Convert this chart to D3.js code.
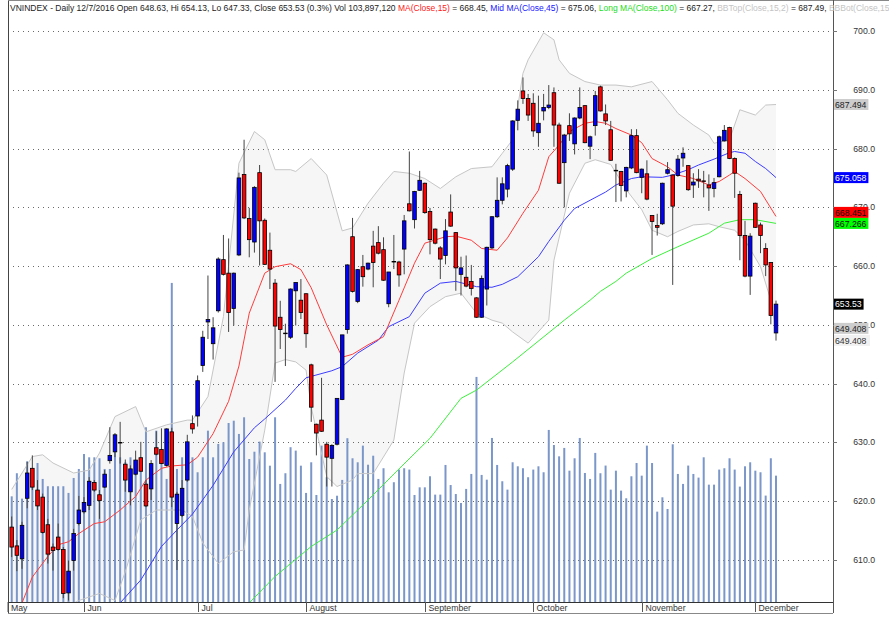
<!DOCTYPE html>
<html>
<head>
<meta charset="utf-8">
<script src="https://cdn.jsdelivr.net/npm/d3@7"></script>
<style>
  body { margin: 0; background: #fff; }
  svg { display: block; }
  text { font-family: "Liberation Sans", Arial, sans-serif; }
</style>
</head>
<body>
<div id="chart"></div>
<script>
// Daily bars, 12 May 2016 to 7 Dec 2016 (one value per trading day).
const openPx = [615.6,612.4,610.2,620.5,625.6,621.9,620.7,616.0,612.2,613.9,
  611.8,604.4,609.9,616.2,618.2,619.3,623.2,621.1,622.4,626.9,
  628.4,630.0,626.3,621.6,624.6,627.4,622.9,622.1,629.1,628.8,
  626.1,631.8,616.2,617.6,623.6,633.2,634.5,643.1,650.5,646.8,
  652.4,661.1,658.8,652.8,661.9,675.6,668.1,664.1,675.9,667.8,
  662.7,657.1,651.3,648.6,647.9,655.8,654.2,655.3,643.2,633.1,
  633.8,629.7,627.3,629.7,637.3,649.2,665.0,654.0,659.9,659.5,
  663.4,664.0,662.8,653.6,660.8,660.7,662.9,670.6,667.9,672.9,
  674.1,669.3,666.3,663.1,661.8,669.2,665.7,658.6,658.1,657.4,
  654.6,651.3,656.1,663.1,668.4,671.2,673.1,676.5,684.8,689.8,
  688.5,687.7,682.7,686.4,687.0,689.5,684.0,677.6,683.9,680.8,
  685.2,687.3,680.4,683.9,690.5,685.9,683.2,676.3,676.1,672.8,
  676.7,682.2,675.1,675.7,668.6,666.9,667.2,675.8,675.5,675.4,
  678.4,677.1,673.8,674.8,674.5,673.8,673.2,675.2,681.3,683.6,
  678.3,672.2,665.2,658.3,670.7,667.0,663.0,660.6,648.63];

const highPx = [617.4,613.4,616.5,626.7,627.8,623.6,621.3,617.0,612.8,616.2,
  612.2,609.9,615.3,620.9,620.7,624.1,623.6,621.9,625.3,632.6,
  631.6,633.5,627.1,626.1,628.6,630.1,623.6,627.0,631.9,632.4,
  632.4,632.5,621.6,623.6,631.3,634.6,641.4,649.0,658.4,651.3,
  661.5,665.3,664.7,658.9,675.9,681.5,669.9,673.6,677.2,668.1,
  665.7,657.8,654.1,650.2,656.2,657.2,657.8,655.4,643.4,633.2,
  641.0,630.1,629.7,637.5,648.3,660.3,668.2,659.5,661.9,660.6,
  666.0,666.8,664.9,659.0,665.3,660.9,668.7,679.5,672.8,676.2,
  674.2,669.9,666.4,663.4,668.0,672.2,665.8,661.6,661.8,660.2,
  654.7,658.4,663.3,668.5,675.1,675.1,677.4,684.8,688.2,692.1,
  689.3,689.4,689.0,689.3,690.8,690.4,684.4,682.5,686.0,685.3,
  690.4,687.4,682.2,689.8,690.7,687.5,684.7,677.4,676.2,676.9,
  683.3,683.3,676.6,678.0,668.7,668.9,674.2,677.7,675.6,678.9,
  680.2,677.2,675.8,676.5,676.2,675.6,675.0,682.2,684.0,683.7,
  678.5,672.8,667.7,665.6,670.8,667.4,663.9,660.7,654.13];

const lowPx = [610.5,608.1,608.5,618.8,621.9,618.5,614.5,609.4,608.2,611.6,
  603.5,603.1,608.2,615.9,617.9,618.5,621.6,617.0,622.3,626.4,
  627.5,626.4,621.6,619.3,624.4,625.0,619.0,620.2,627.8,626.3,
  625.9,619.0,608.3,617.3,623.3,631.5,632.7,642.0,647.6,644.1,
  652.1,658.4,648.8,649.9,661.7,668.0,661.5,662.3,660.1,660.2,
  656.1,640.3,645.9,643.0,647.6,649.9,651.0,646.1,633.5,627.8,
  631.8,622.5,622.5,629.5,637.2,648.5,655.5,653.7,656.5,659.3,
  656.4,662.0,657.5,653.0,659.5,656.5,658.6,669.3,666.4,672.8,
  668.9,662.0,663.7,657.8,660.3,666.7,655.8,655.0,656.4,655.0,
  651.2,651.2,653.3,662.9,668.2,670.5,671.7,676.2,683.1,687.6,
  684.7,682.0,680.3,684.8,686.7,680.3,674.0,670.0,681.3,679.0,
  685.0,680.9,678.2,682.2,686.3,684.0,677.9,670.9,671.0,671.7,
  676.5,675.8,672.4,671.2,661.9,665.2,667.0,675.6,656.8,675.2,
  676.9,672.8,671.6,673.3,671.7,669.4,671.7,675.1,681.2,678.2,
  671.6,661.0,658.1,655.1,666.5,662.2,658.3,650.1,647.33];

const closePx = [612.2,610.8,615.9,624.8,622.4,619.2,614.7,611.0,611.6,611.8,
  604.3,608.1,614.5,618.5,619.8,623.4,621.9,620.1,624.6,627.8,
  631.3,630.0,623.6,625.5,627.0,625.1,619.2,626.4,628.0,626.4,
  632.3,620.7,621.2,622.2,630.1,632.3,640.5,647.9,650.9,649.5,
  661.2,658.6,652.1,658.8,675.0,668.2,664.5,673.4,667.7,660.3,
  659.5,649.8,649.2,648.5,656.1,657.2,652.1,648.5,636.0,631.6,
  631.9,627.5,629.5,637.5,648.3,660.2,655.7,659.4,658.2,660.5,
  660.6,662.2,657.6,659.0,660.8,658.5,667.7,669.4,672.7,674.6,
  669.1,664.5,663.9,661.2,666.0,666.8,659.7,659.7,656.6,656.2,
  651.3,657.9,663.2,668.4,671.2,674.0,677.1,684.7,686.7,688.5,
  685.7,683.0,684.3,687.0,687.4,684.0,674.1,682.3,682.5,685.2,
  687.0,681.0,682.0,689.0,686.4,684.7,678.0,676.3,673.7,676.8,
  682.2,675.9,676.5,671.4,667.6,666.6,674.1,676.4,670.2,678.2,
  679.2,673.0,674.3,674.5,674.5,673.3,674.2,682.0,683.1,678.3,
  675.8,665.2,658.3,665.1,666.6,665.2,660.2,651.6,653.53];

// Volume, millions of shares.
const volume = [86.9,105.9,85.0,115.7,110.2,114.3,101.2,95.2,95.2,95.2,
  95.2,89.7,102.0,109.4,121.7,119.0,119.0,118.2,109.4,109.4,
  130.0,119.0,114.9,119.0,109.4,119.0,143.7,108.0,140.9,119.0,
  101.2,262.4,109.4,119.0,109.4,119.0,106.7,119.0,140.9,119.0,
  130.0,131.4,147.2,149.1,138.2,151.9,117.6,123.6,131.9,123.1,
  112.1,151.9,97.1,105.9,127.3,124.5,112.1,89.7,114.9,88.0,
  128.6,102.6,84.7,87.4,100.4,134.7,118.2,114.9,128.6,112.9,
  120.3,101.2,110.0,90.2,98.5,108.9,110.0,108.9,88.0,94.3,
  94.3,103.4,88.3,88.3,112.7,96.2,88.8,81.4,93.0,105.3,
  185.1,104.5,100.6,134.9,112.7,99.3,92.4,114.9,111.6,110.0,
  102.6,108.9,111.6,106.7,141.5,129.1,119.8,126.7,108.0,118.2,
  134.9,106.1,101.2,122.6,105.9,112.2,92.4,108.0,91.6,85.3,
  103.4,114.3,103.9,128.6,114.3,74.3,86.1,76.5,129.7,105.3,
  97.1,112.2,105.3,102.3,119.0,96.5,96.5,108.9,110.0,118.2,
  108.9,94.9,111.6,114.9,108.0,106.7,87.5,118.2,103.89712];

// Indicator lines as [bar index, value].
const ma15 = [[0,599],[2,602.7],[4,607.1],[7,610.6],[9,612.6],[11,613.1],[13,614.5],[16,616.2],[18,616.5],
  [21,618.5],[24,620.8],[26,623.6],[29,625.6],[31,626.0],[34,626.2],[36,627.5],[39,631.5],[42,637],
  [44,643],[46,652],[49,658.8],[51,659.9],[54,660.4],[56,659.4],[58,656.3],[61,650],[64,644.5],[66,645],
  [69,646.6],[72,648.0],[75,654.2],[78,660.5],[80,663.9],[84,665.0],[86,665.1],[89,664.4],[91,663.0],
  [94,662.7],[96,664.8],[99,669.0],[102,672.9],[104,678.6],[106,680.6],[108,682.9],[111,684.3],
  [113,684.6],[115,684.3],[117,683.4],[120,682.3],[122,681.0],[124,678.3],[127,676.9],[129,675.5],
  [132,674.9],[135,673.8],[137,674.4],[139,675.5],[140,676.1],[142,674.9],[145,672.7],[148,668.451]];

const ma45 = [[19,600],[21,602.7],[25,606.6],[29,612.3],[32,615.1],[35,617.8],[39,622.7],[43,628.4],
  [47,632.5],[49,634],[53,637.2],[55,639.2],[57,641.0],[62,642.2],[64,642.9],[67,645.2],[71,647.4],
  [73,649.7],[77,651.4],[80,655.4],[83,657.1],[86,657.4],[90,656.5],[93,656.4],[95,656.9],[98,658.2],
  [102,661.6],[104,664.2],[107,667.8],[109,669.8],[112,671.2],[115,672.6],[117,673.8],[120,674.9],
  [122,675.2],[126,675.1],[128,675.5],[131,676.4],[133,677.2],[136,678.2],[139,679.3],[140,679.5],
  [142,679.2],[144,677.8],[146,676.6],[148,675.058]];

const ma100 = [[44,600],[46,602.7],[51,607.2],[58,612.3],[63,615.1],[69,620.2],[75,625.5],[81,630.7],
  [87,637.5],[90,638.9],[97,643.7],[107,650.8],[112,654.2],[114,655.7],[117,657.4],[119,658.8],
  [124,661.3],[129,663.3],[135,665.6],[138,667.3],[141,667.9],[144,667.9],[148,667.266]];

const bbTop = [[0,622],[4,627.6],[6,627.9],[8,626.5],[12,624.8],[15,625.3],[17,628.2],[20,634.4],
  [24,636.1],[26,631.8],[30,633.0],[34,633.8],[35,633.8],[38,637.8],[41,651.4],[44,677.5],[47,682.9],
  [49,681.5],[51,676.4],[54,676.4],[55,676.1],[58,678.3],[61,675.5],[64,666],[66,666.5],[69,670.7],
  [72,674.1],[74,676.1],[77,675.8],[80,674.9],[83,673.2],[86,675.2],[89,676.6],[93,676.9],[95,679.2],
  [97,681.5],[99,692.8],[100,695.1],[103,699.7],[105,698.5],[106,695.1],[108,692.8],[111,691.4],
  [114,690.8],[117,690.8],[120,690.5],[124,691.4],[127,688.3],[129,686.0],[132,684.0],[135,682.3],
  [136,680.9],[139,681.5],[141,686.6],[144,685.7],[146,687.4],[148,687.494]];

const bbBot = [[0,598],[8,601],[13,603.1],[17,604.3],[20,603.1],[22,608],[25,616.8],[28,618.5],
  [33,618.5],[35,617.4],[37,612.9],[40,609.4],[43,611.4],[45,611.7],[46,618.5],[49,632.1],[51,643.5],
  [53,644.1],[55,643.7],[57,642.3],[58,636],[61,624.2],[63,622.5],[66,623.6],[67,624.7],[70,624.7],
  [74,630.4],[76,641.8],[78,650.3],[81,653.1],[84,654.8],[87,655.4],[90,652.0],[93,650.8],[95,650.3],
  [97,648.8],[100,646.9],[104,650.8],[105,661.0],[108,672.4],[111,677.5],[113,678.1],[116,677.3],
  [119,673.0],[122,669.6],[124,666.1],[127,665.0],[129,665.9],[132,667.0],[135,667.2],[137,666.7],
  [140,666.1],[142,664.4],[145,659.9],[147,654.2],[148,649.408]];

// Month labels and the bar index where each month starts.
const monthNames = ["May", "Jun", "Jul", "August", "September", "October", "November", "December"];
const monthStart = [0, 14, 36, 57, 80, 101, 122, 144];

const priceTicks = [610, 620, 630, 640, 650, 660, 670, 680, 690, 700];
const lastDate = "12/7/2016";

// Layout
const W = 889, H = 617;
const plotLeft = 8, plotRight = 833, plotTop = 15, plotBottom = 602, dateBottom = 613;
const last = closePx.length - 1;

const svg = d3.select("#chart").append("svg")
    .attr("width", W)
    .attr("height", H);

const x = d3.scaleLinear().domain([0, last]).range([11.7, 776]);
const y = d3.scaleLinear().domain([610, 700]).range([560, 31]);
const yVol = d3.scaleLinear().domain([0, 100]).range([plotBottom, plotBottom - 121.6]);

svg.append("defs").append("clipPath").attr("id", "plotclip")
    .append("rect")
    .attr("x", plotLeft).attr("y", plotTop)
    .attr("width", plotRight - plotLeft).attr("height", plotBottom - plotTop);

const plot = svg.append("g").attr("clip-path", "url(#plotclip)");
const pt = d => [x(d[0]), y(d[1])];

// Bollinger band shading
const bandPts = bbTop.map(pt).concat(bbBot.map(pt).reverse());
plot.append("path")
    .attr("d", d3.line()(bandPts) + "Z")
    .attr("fill", "#f6f6f6");

// Dotted price grid
plot.selectAll("line.grid")
    .data(priceTicks)
    .enter()
    .append("line")
    .attr("class", "grid")
    .attr("x1", plotLeft).attr("x2", plotRight)
    .attr("y1", d => Math.round(y(d)) + 0.5)
    .attr("y2", d => Math.round(y(d)) + 0.5)
    .attr("stroke", "#6a6a6a")
    .attr("stroke-dasharray", "1,4");

// Volume bars
plot.selectAll("rect.vol")
    .data(volume)
    .enter()
    .append("rect")
    .attr("class", "vol")
    .attr("x", (d, i) => x(i) - 1)
    .attr("y", d => yVol(d))
    .attr("width", 2)
    .attr("height", d => plotBottom - yVol(d))
    .attr("fill", "#7b97c9");

// Indicator lines
const line = d3.line().x(d => x(d[0])).y(d => y(d[1]));
[[bbTop, "#c6c6c6"], [bbBot, "#c6c6c6"], [ma100, "#3cf03c"], [ma45, "#3c3cff"], [ma15, "#ff3c3c"]]
    .forEach(([data, color]) => {
        plot.append("path")
            .attr("d", line(data))
            .attr("fill", "none")
            .attr("stroke", color)
            .attr("stroke-width", 1);
    });

// Candles
const bars = d3.range(closePx.length);
plot.selectAll("line.wick")
    .data(bars)
    .enter()
    .append("line")
    .attr("class", "wick")
    .attr("x1", i => x(i)).attr("x2", i => x(i))
    .attr("y1", i => y(highPx[i]))
    .attr("y2", i => y(lowPx[i]))
    .attr("stroke", "#444")
    .attr("stroke-width", 1);

plot.selectAll("rect.body")
    .data(bars)
    .enter()
    .append("rect")
    .attr("class", "body")
    .attr("x", i => x(i) - 1.8)
    .attr("y", i => y(Math.max(openPx[i], closePx[i])))
    .attr("width", 3.6)
    .attr("height", i => Math.max(0.6, Math.abs(y(openPx[i]) - y(closePx[i]))))
    .attr("fill", i => closePx[i] > openPx[i] ? "#0000ff" : "#ff0000")
    .attr("stroke", "#000")
    .attr("stroke-width", 0.8);

// Frame
svg.append("line").attr("x1", plotLeft + 0.5).attr("x2", plotLeft + 0.5).attr("y1", 0).attr("y2", dateBottom)
    .attr("stroke", "#444");
svg.append("line").attr("x1", plotLeft).attr("x2", W).attr("y1", 0.5).attr("y2", 0.5)
    .attr("stroke", "#888");
svg.append("line").attr("x1", plotRight + 0.5).attr("x2", plotRight + 0.5).attr("y1", 0).attr("y2", dateBottom)
    .attr("stroke", "#555");

// Price axis
svg.selectAll("line.tick")
    .data(priceTicks)
    .enter()
    .append("line")
    .attr("x1", plotRight).attr("x2", plotRight + 4)
    .attr("y1", d => Math.round(y(d)) + 0.5)
    .attr("y2", d => Math.round(y(d)) + 0.5)
    .attr("stroke", "#777");

svg.selectAll("text.price")
    .data(priceTicks)
    .enter()
    .append("text")
    .attr("x", 875)
    .attr("y", d => y(d) + 3)
    .attr("text-anchor", "end")
    .attr("font-size", 8.7)
    .attr("fill", "#333")
    .text(d => d3.format(".1f")(d));

// Last-value markers on the axis
const markers = [
    { v: bbTop[bbTop.length - 1][1], bg: "#cdcdcd", fg: "#222" },
    { v: ma45[ma45.length - 1][1], bg: "#0000ff", fg: "#fff" },
    { v: ma15[ma15.length - 1][1], bg: "#ff0000", fg: "#111" },
    { v: ma100[ma100.length - 1][1], bg: "#00ff00", fg: "#111" },
    { v: closePx[last], bg: "#000", fg: "#fff" },
    { v: bbBot[bbBot.length - 1][1], bg: "#cdcdcd", fg: "#222" }
];
markers.forEach(m => m.pos = y(m.v));
for (let i = markers.length - 2; i >= 0; i--) {
    if (markers[i + 1].pos - markers[i].pos < 11) markers[i].pos = markers[i + 1].pos - 11;
}
markers.forEach(m => {
    const g = svg.append("g");
    const t = g.append("text")
        .attr("x", plotRight + 2)
        .attr("y", m.pos + 3.2)
        .attr("font-size", 8.7)
        .attr("fill", m.fg)
        .text(String(m.v));
    const w = t.node().getComputedTextLength();
    g.insert("rect", "text")
        .attr("x", plotRight + 1).attr("y", m.pos - 5.5)
        .attr("width", w + 3).attr("height", 11)
        .attr("fill", m.bg);
});
const bbLast = markers[markers.length - 1];
svg.append("rect")
    .attr("x", plotRight + 1).attr("y", bbLast.pos + 6.5)
    .attr("width", 36).attr("height", 11)
    .attr("fill", "#f1f1f1");
svg.append("text")
    .attr("x", plotRight + 2)
    .attr("y", bbLast.pos + 15.2)
    .attr("font-size", 8.7)
    .attr("fill", "#333")
    .text(String(bbLast.v));

// Date axis
svg.append("line").attr("x1", plotLeft).attr("x2", plotRight).attr("y1", plotBottom + 0.5).attr("y2", plotBottom + 0.5)
    .attr("stroke", "#333");
svg.append("line").attr("x1", plotLeft).attr("x2", plotRight).attr("y1", dateBottom + 0.5).attr("y2", dateBottom + 0.5)
    .attr("stroke", "#888");
const monthX = i => monthStart[i] === 0 ? plotLeft : Math.round(x(monthStart[i])) + 0.5;
svg.selectAll("line.mtick")
    .data(monthNames)
    .enter()
    .append("line")
    .attr("x1", (d, i) => monthX(i)).attr("x2", (d, i) => monthX(i))
    .attr("y1", plotBottom).attr("y2", dateBottom - 1)
    .attr("stroke", "#555");
svg.selectAll("text.month")
    .data(monthNames)
    .enter()
    .append("text")
    .attr("x", (d, i) => monthX(i) + 3)
    .attr("y", dateBottom - 2.5)
    .attr("font-size", 8.7)
    .attr("fill", "#333")
    .text(d => d);

// Title line
const prev = closePx[last - 1];
const chg = ((closePx[last] - prev) / prev * 100).toFixed(1);
const f2 = v => v.toFixed(2);
const title = [
    ["VNINDEX - Daily " + lastDate + " Open " + openPx[last] + ", Hi " + highPx[last] + ", Lo " + lowPx[last] +
     ", Close " + closePx[last] + " (" + chg + "%) Vol " + d3.format(",")(Math.round(volume[last] * 1e6)) + " ", "#222"],
    ["MA(Close,15)", "#ff2020"], [" = " + f2(ma15[ma15.length - 1][1]) + ", ", "#222"],
    ["Mid MA(Close,45)", "#2020ff"], [" = " + f2(ma45[ma45.length - 1][1]) + ", ", "#222"],
    ["Long MA(Close,100)", "#22dd22"], [" = " + f2(ma100[ma100.length - 1][1]) + ", ", "#222"],
    ["BBTop(Close,15,2)", "#c4c4c4"], [" = " + f2(bbTop[bbTop.length - 1][1]) + ", ", "#222"],
    ["BBBot(Close,15,2)", "#c4c4c4"], [" = " + f2(bbBot[bbBot.length - 1][1]), "#222"]
];
svg.append("text")
    .attr("x", 10)
    .attr("y", 11)
    .attr("font-size", 8.5)
    .selectAll("tspan")
    .data(title)
    .enter()
    .append("tspan")
    .attr("fill", d => d[1])
    .text(d => d[0]);
</script>
</body>
</html>
